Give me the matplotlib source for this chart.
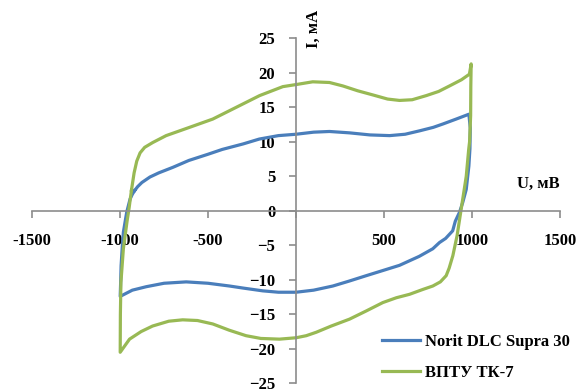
import matplotlib
matplotlib.use('Agg')
import matplotlib.pyplot as plt

plt.rcParams['font.family'] = ['Liberation Serif', 'DejaVu Serif']
plt.rcParams['font.weight'] = 'bold'
plt.rcParams['font.size'] = 12

# Norit DLC Supra 30: замкнутая ЦВА, U (мВ) и I (мА)
norit_u = [-918, -900, -876, -830, -780, -700, -609, -500, -419, -300, -209, -100, 0, 100, 190, 304,
           420, 532, 620, 703, 780, 836, 910, 982,
           990, 988, 982, 967, 947, 929, 905, 890, 850, 815, 777, 700, 588, 500, 399,
           300, 209, 100, 0, -100, -189, -300, -378, -500, -624, -750, -851, -930, -999,
           -996, -994, -988, -981, -962, -943, -930, -918]
norit_i = [2.9, 3.5, 4.1, 4.9, 5.5, 6.3, 7.3, 8.2, 8.9, 9.7, 10.4, 10.9, 11.1, 11.4, 11.5, 11.3,
           11.0, 10.9, 11.1, 11.6, 12.1, 12.6, 13.3, 14.0,
           12.0, 9.0, 6.5, 3.1, 1.2, -0.2, -1.5, -2.9, -4.0, -4.6, -5.5, -6.6, -7.9, -8.6, -9.4,
           -10.2, -10.9, -11.5, -11.8, -11.8, -11.6, -11.2, -10.9, -10.5, -10.3, -10.5, -11.0, -11.5, -12.4,
           -10.0, -8.0, -5.5, -3.1, -0.2, 1.7, 2.4, 2.9]

# ВПТУ ТК-7
vptu_u = [-935, -920, -905, -886, -860, -814, -738, -605, -473, -340, -207, -75, 0, 95, 190, 266,
          350, 436, 520, 588, 660, 740, 810, 872, 940, 985, 995,
          993, 992, 986, 981, 967, 955, 938, 915, 891, 870, 853, 820, 777, 720, 645, 570,
          493, 400, 304, 200, 115, 58, 0, -94, -200, -284, -380, -473, -560, -644, -723,
          -815, -880, -946, -999,
          -998, -995, -981, -960, -948, -935]
vptu_i = [3.0, 5.5, 7.2, 8.4, 9.2, 9.9, 10.9, 12.1, 13.3, 15.0, 16.7, 18.0, 18.3, 18.7, 18.6, 18.1,
          17.4, 16.8, 16.2, 16.0, 16.1, 16.7, 17.3, 18.1, 19.0, 19.8, 21.3,
          18.0, 13.8, 10.0, 8.9, 5.0, 3.0, 0.2, -3.6, -6.5, -8.3, -9.4, -10.3, -10.9, -11.4, -12.1, -12.6,
          -13.3, -14.5, -15.7, -16.7, -17.6, -18.1, -18.4, -18.6, -18.5, -18.1, -17.3, -16.4, -15.9, -15.8, -16.0,
          -16.7, -17.5, -18.6, -20.5,
          -15.0, -10.4, -5.5, -1.5, 0.5, 3.0]

x_ticks = [-1500, -1000, -500, 0, 500, 1000, 1500]
x_labels = ['-1500', '-1000', '-500', '', '500', '1000', '1500']
y_ticks = [-25, -20, -15, -10, -5, 0, 5, 10, 15, 20, 25]

fig = plt.figure(figsize=(5.76, 3.92), dpi=100)
ax = fig.add_axes([0.0556, 0.0222, 0.9167, 0.880])

ax.plot(norit_u, norit_i, color='#4a7ebb', lw=2.3, label='Norit DLC Supra 30')
ax.plot(vptu_u, vptu_i, color='#98b954', lw=2.3, label='ВПТУ ТК-7')

ax.set_xlim(-1500, 1500)
ax.set_ylim(-25, 25)
ax.spines['left'].set_position(('data', 0))
ax.spines['bottom'].set_position(('data', 0))
ax.spines['top'].set_visible(False)
ax.spines['right'].set_visible(False)
for s in ('left', 'bottom'):
    ax.spines[s].set_color('#8c8c8c')
    ax.spines[s].set_linewidth(1.2)

ax.set_xticks(x_ticks)
ax.set_xticklabels(x_labels)
ax.set_yticks(y_ticks)
ax.tick_params(axis='both', direction='out', length=5, width=1.2, color='#8c8c8c')
ax.tick_params(axis='x', pad=11)
ax.tick_params(axis='y', pad=10)
for lab in ax.get_xticklabels() + ax.get_yticklabels():
    lab.set_fontweight('bold')

ax.text(100, 23.6, 'I, мА', rotation=90, ha='center', va='bottom', fontweight='bold')
ax.text(1500, 2.7, 'U, мВ', ha='right', va='bottom', fontweight='bold')

ax.legend(loc='center left', bbox_to_anchor=(0.648, 0.088), bbox_transform=fig.transFigure,
          frameon=False, borderpad=0, handlelength=2.3, handletextpad=0.3, labelspacing=0.9,
          prop={'weight': 'bold', 'size': 12})

fig.savefig('out.png', dpi=100)
